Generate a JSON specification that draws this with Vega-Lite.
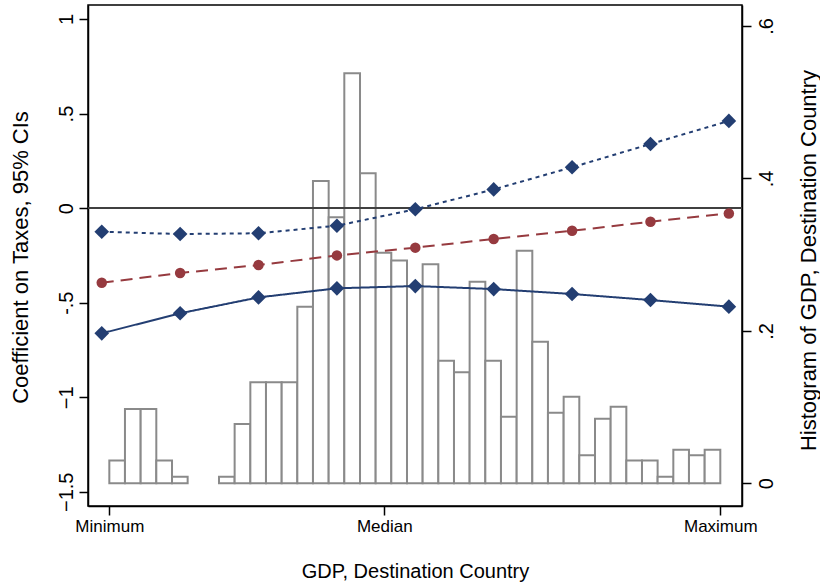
{
  "$schema": "https://vega.github.io/schema/vega-lite/v6.json",
  "width": 654,
  "height": 501,
  "autosize": {"type": "none"},
  "padding": {"left": 88, "top": 5, "right": 78, "bottom": 79},
  "background": "white",
  "config": {
    "view": {"stroke": "#000000", "strokeWidth": 1.5},
    "font": "Liberation Sans",
    "axis": {
      "grid": false,
      "domainColor": "#000000",
      "domainWidth": 1.5,
      "tickColor": "#000000",
      "tickWidth": 1.5,
      "tickSize": 9,
      "labelColor": "#000000",
      "titleColor": "#000000",
      "labelFont": "Liberation Sans",
      "titleFont": "Liberation Sans",
      "labelFontSize": 20,
      "titleFontSize": 22,
      "titleFontWeight": "normal",
      "labelOverlap": false,
      "labelFlush": false
    }
  },
  "datasets": {
    "hist": [
      {"lo": 0, "hi": 0.0256, "h": 0.030},
      {"lo": 0.0256, "hi": 0.0513, "h": 0.0975},
      {"lo": 0.0513, "hi": 0.0769, "h": 0.0975},
      {"lo": 0.0769, "hi": 0.1026, "h": 0.030},
      {"lo": 0.1026, "hi": 0.1282, "h": 0.0087},
      {"lo": 0.1795, "hi": 0.2051, "h": 0.0087},
      {"lo": 0.2051, "hi": 0.2308, "h": 0.0778},
      {"lo": 0.2308, "hi": 0.2564, "h": 0.1325},
      {"lo": 0.2564, "hi": 0.2821, "h": 0.1325},
      {"lo": 0.2821, "hi": 0.3077, "h": 0.1325},
      {"lo": 0.3077, "hi": 0.3333, "h": 0.2317},
      {"lo": 0.3333, "hi": 0.359, "h": 0.3966},
      {"lo": 0.359, "hi": 0.3846, "h": 0.349},
      {"lo": 0.3846, "hi": 0.4103, "h": 0.5379},
      {"lo": 0.4103, "hi": 0.4359, "h": 0.4067},
      {"lo": 0.4359, "hi": 0.4615, "h": 0.3025},
      {"lo": 0.4615, "hi": 0.4872, "h": 0.2923},
      {"lo": 0.4872, "hi": 0.5128, "h": 0.2582},
      {"lo": 0.5128, "hi": 0.5385, "h": 0.2873},
      {"lo": 0.5385, "hi": 0.5641, "h": 0.1609},
      {"lo": 0.5641, "hi": 0.5897, "h": 0.1456},
      {"lo": 0.5897, "hi": 0.6154, "h": 0.2645},
      {"lo": 0.6154, "hi": 0.641, "h": 0.1609},
      {"lo": 0.641, "hi": 0.6667, "h": 0.0874},
      {"lo": 0.6667, "hi": 0.6923, "h": 0.3052},
      {"lo": 0.6923, "hi": 0.7179, "h": 0.1858},
      {"lo": 0.7179, "hi": 0.7436, "h": 0.0926},
      {"lo": 0.7436, "hi": 0.7692, "h": 0.1136},
      {"lo": 0.7692, "hi": 0.7949, "h": 0.0367},
      {"lo": 0.7949, "hi": 0.8205, "h": 0.0848},
      {"lo": 0.8205, "hi": 0.8462, "h": 0.1005},
      {"lo": 0.8462, "hi": 0.8718, "h": 0.030},
      {"lo": 0.8718, "hi": 0.8974, "h": 0.030},
      {"lo": 0.8974, "hi": 0.9231, "h": 0.0087},
      {"lo": 0.9231, "hi": 0.9487, "h": 0.0441},
      {"lo": 0.9487, "hi": 0.9744, "h": 0.0367},
      {"lo": 0.9744, "hi": 1, "h": 0.0441}
    ],
    "est": [
      {"x": -0.0124, "series": "upper", "v": -0.125},
      {"x": 0.1159, "series": "upper", "v": -0.137},
      {"x": 0.2442, "series": "upper", "v": -0.133},
      {"x": 0.3725, "series": "upper", "v": -0.093},
      {"x": 0.5008, "series": "upper", "v": -0.006},
      {"x": 0.6291, "series": "upper", "v": 0.099},
      {"x": 0.7574, "series": "upper", "v": 0.216},
      {"x": 0.8857, "series": "upper", "v": 0.339},
      {"x": 1.014, "series": "upper", "v": 0.461},
      {"x": -0.0124, "series": "est", "v": -0.395},
      {"x": 0.1159, "series": "est", "v": -0.343},
      {"x": 0.2442, "series": "est", "v": -0.301},
      {"x": 0.3725, "series": "est", "v": -0.250},
      {"x": 0.5008, "series": "est", "v": -0.209},
      {"x": 0.6291, "series": "est", "v": -0.163},
      {"x": 0.7574, "series": "est", "v": -0.120},
      {"x": 0.8857, "series": "est", "v": -0.072},
      {"x": 1.014, "series": "est", "v": -0.028},
      {"x": -0.0124, "series": "lower", "v": -0.662},
      {"x": 0.1159, "series": "lower", "v": -0.556},
      {"x": 0.2442, "series": "lower", "v": -0.472},
      {"x": 0.3725, "series": "lower", "v": -0.424},
      {"x": 0.5008, "series": "lower", "v": -0.412},
      {"x": 0.6291, "series": "lower", "v": -0.428},
      {"x": 0.7574, "series": "lower", "v": -0.454},
      {"x": 0.8857, "series": "lower", "v": -0.486},
      {"x": 1.014, "series": "lower", "v": -0.521}
    ]
  },
  "layer": [
    {
      "data": {"name": "hist"},
      "mark": {"type": "rect", "fill": "white", "stroke": "#8a8a8a", "strokeWidth": 2},
      "encoding": {
        "x": {
          "field": "lo", "type": "quantitative",
          "scale": {"domain": [-0.0349, 1.0355], "nice": false, "zero": false},
          "title": "GDP, Destination Country",
          "axis": {
            "values": [0, 0.45, 1],
            "labelExpr": "datum.value == 0 ? 'Minimum' : datum.value == 1 ? 'Maximum' : 'Median'",
            "labelFontSize": 17,
            "labelPadding": 3,
            "titleFontSize": 20,
            "titleY": 65,
            "titleBaseline": "middle"
          }
        },
        "x2": {"field": "hi"},
        "y": {
          "field": "h", "type": "quantitative",
          "scale": {"domain": [-0.0298, 0.6275], "nice": false, "zero": false},
          "title": "Histogram of GDP, Destination Country",
          "axis": {
            "orient": "right",
            "values": [0, 0.2, 0.4, 0.6],
            "labelExpr": "datum.value == 0 ? '0' : replace(format(datum.value, '.1f'), '0.', '.')",
            "labelAngle": 270,
            "labelAlign": "center",
            "labelBaseline": "top",
            "labelPadding": 5,
            "titleAngle": 270,
            "titleX": 66,
            "titleY": 255,
            "titleAlign": "center",
            "titleBaseline": "middle"
          }
        },
        "y2": {"datum": 0}
      }
    },
    {
      "data": {"name": "est"},
      "layer": [
        {
          "mark": {"type": "rule", "color": "#404040", "strokeWidth": 1.8},
          "encoding": {
            "y": {
              "datum": 0, "type": "quantitative",
              "scale": {"domain": [-1.575, 1.074], "nice": false, "zero": false},
              "title": "Coefficient on Taxes, 95% CIs"
            }
          }
        },
        {
          "mark": {"type": "line", "strokeWidth": 2},
          "encoding": {
            "x": {"field": "x", "type": "quantitative", "title": "GDP, Destination Country"},
            "y": {
              "field": "v", "type": "quantitative",
              "scale": {"domain": [-1.575, 1.074], "nice": false, "zero": false},
              "title": "Coefficient on Taxes, 95% CIs",
              "axis": {
                "orient": "left",
                "values": [-1.5, -1, -0.5, 0, 0.5, 1],
                "labelExpr": "datum.value == 0.5 ? '.5' : datum.value == -0.5 ? '-.5' : format(datum.value, '~g')",
                "labelAngle": 270,
                "labelAlign": "center",
                "labelBaseline": "alphabetic",
                "labelPadding": 7,
                "titleAngle": 270,
                "titleX": -68,
                "titleY": 252,
                "titleAlign": "center",
                "titleBaseline": "middle"
              }
            },
            "color": {
              "field": "series", "type": "nominal",
              "scale": {"domain": ["upper", "est", "lower"], "range": ["#233e72", "#963a3f", "#233e72"]},
              "legend": null
            },
            "strokeDash": {
              "field": "series", "type": "nominal",
              "scale": {"domain": ["upper", "est", "lower"], "range": [[4, 4], [12, 7], [1, 0]]},
              "legend": null
            }
          }
        },
        {
          "transform": [{"filter": "datum.series != 'est'"}],
          "mark": {"type": "point", "shape": "diamond", "size": 215, "filled": true, "opacity": 1, "strokeWidth": 0, "color": "#233e72"},
          "encoding": {
            "x": {"field": "x", "type": "quantitative", "title": "GDP, Destination Country"},
            "y": {
              "field": "v", "type": "quantitative",
              "scale": {"domain": [-1.575, 1.074], "nice": false, "zero": false},
              "title": "Coefficient on Taxes, 95% CIs"
            }
          }
        },
        {
          "transform": [{"filter": "datum.series == 'est'"}],
          "mark": {"type": "point", "shape": "circle", "size": 110, "filled": true, "opacity": 1, "strokeWidth": 0, "color": "#963a3f"},
          "encoding": {
            "x": {"field": "x", "type": "quantitative", "title": "GDP, Destination Country"},
            "y": {
              "field": "v", "type": "quantitative",
              "scale": {"domain": [-1.575, 1.074], "nice": false, "zero": false},
              "title": "Coefficient on Taxes, 95% CIs"
            }
          }
        }
      ]
    }
  ],
  "resolve": {"scale": {"y": "independent"}}
}
